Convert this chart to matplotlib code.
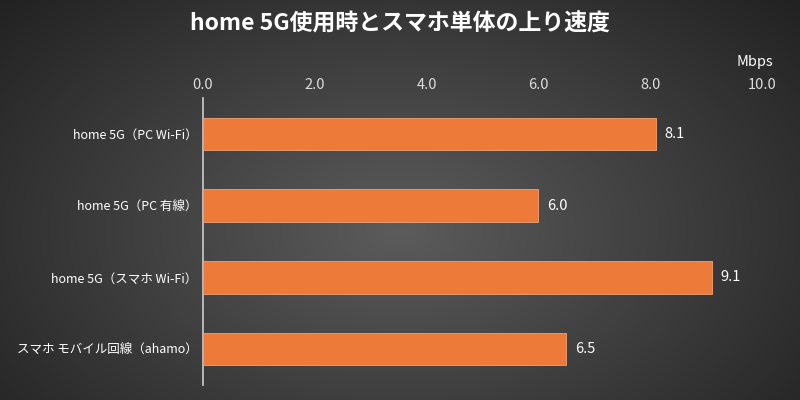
import numpy as np
import matplotlib
matplotlib.use("Agg")
import matplotlib.pyplot as plt

plt.rcParams['font.family'] = ['Noto Sans CJK JP', 'DejaVu Sans']

categories = ["home 5G（PC Wi-Fi）", "home 5G（PC 有線）", "home 5G（スマホ Wi-Fi）", "スマホ モバイル回線（ahamo）"]
values = [8.1, 6.0, 9.1, 6.5]
ticks = [0.0, 2.0, 4.0, 6.0, 8.0, 10.0]
tick_labels = ["0.0", "2.0", "4.0", "6.0", "8.0", "10.0"]

fig = plt.figure(figsize=(8, 4), dpi=100)
bg = fig.add_axes([0, 0, 1, 1])
yy, xx = np.mgrid[0:400, 0:800]
r = np.sqrt(((xx - 400) / 520) ** 2 + ((yy - 230) / 330) ** 2)
g = np.clip(0.36 - 0.22 * r, 0.12, 0.4)
bg.imshow(np.dstack([g, g, g]), extent=[0, 1, 0, 1], aspect='auto')
bg.axis('off')

ax = fig.add_axes([203/800, 1 - 385/400, (762-203)/800, (385-98)/400])
ax.set_facecolor('none')
y = np.arange(len(categories))
bars = ax.barh(y, values, height=0.45, color='#ee7a3a', edgecolor='#f5a070', linewidth=0.6, zorder=3)
for b, v in zip(bars, values):
    ax.text(v + 0.15, b.get_y() + b.get_height()/2, f"{v:.1f}", va='center', ha='left', color='white', fontsize=10.5)
ax.set_xlim(0, 10)
ax.set_ylim(len(categories) - 0.5, -0.5)
ax.set_yticks(y)
ax.set_yticklabels(categories, color='white', fontsize=9)
ax.xaxis.tick_top()
ax.set_xticks(ticks)
ax.set_xticklabels(tick_labels, color='#dddddd', fontsize=10.5)
ax.tick_params(length=0, pad=4)
ax.tick_params(axis='x', pad=4)
for s in ['top', 'right', 'bottom']:
    ax.spines[s].set_visible(False)
ax.spines['left'].set_color('#cccccc')
ax.spines['left'].set_linewidth(1.2)
fig.text(755/800, 1 - 62/400, "Mbps", color='white', fontsize=10.5, ha='center', va='center')
fig.text(0.5, 1 - 24/400, "home 5G使用時とスマホ単体の上り速度", color='white', fontsize=16.5, fontweight='bold', ha='center', va='center')
fig.savefig("out.png", dpi=100)
